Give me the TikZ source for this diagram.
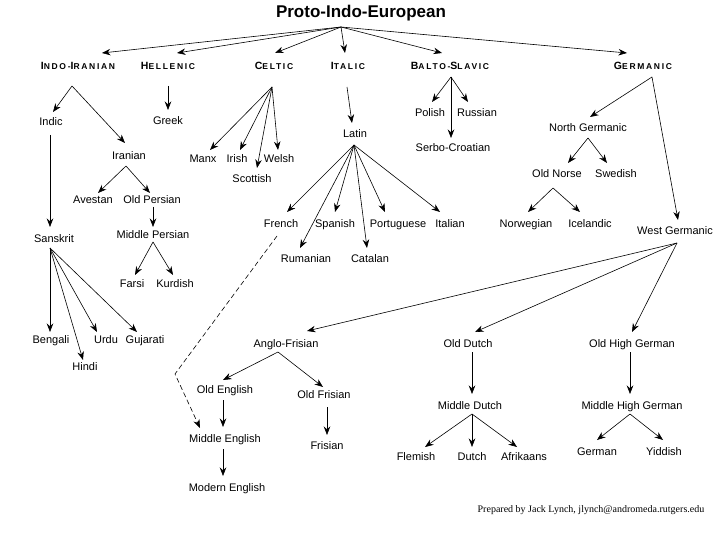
\documentclass[tikz,border=0pt]{standalone}
\usepackage{fontspec}
\setmainfont{Liberation Sans}
\newfontfamily\hdfont[LetterSpace=20]{Liberation Sans}
\newfontfamily\credfont{Liberation Serif}
\usetikzlibrary{arrows.meta}
\newcommand\Bg[1]{{\fontsize{10.5}{12}\selectfont #1}}
\newcommand\ar[4]{\draw[arr] (#1) -- ([xshift=#3pt,yshift=#4pt]#2.base);}
\newcommand\vx[4]{\coordinate (#1) at ([xshift=#3pt,yshift=#4pt]#2.base);}
\begin{document}
\begin{tikzpicture}[x=1pt,y=-1pt,
  lang/.style={anchor=base, inner sep=0pt, font=\fontsize{11}{13}\selectfont},
  hdr/.style={anchor=base, inner sep=0pt, font=\hdfont\bfseries\fontsize{8.5}{10}\selectfont},
  ttl/.style={anchor=base, inner sep=0pt, font=\bfseries\fontsize{17}{20}\selectfont},
  cred/.style={anchor=base, inner sep=0pt, font=\credfont\fontsize{10}{12}\selectfont},
  arr/.style={-{Stealth[length=8.5pt,width=6.5pt]}, line width=0.6pt}]
\useasboundingbox[fill=white] (0,0) rectangle (720,540);
% title and branches
\node[ttl] (pie) at (361,18) {Proto-Indo-European};
\node[hdr] (ii) at (78,70) {\Bg{I}NDO-\Bg{I}RANIAN};
\node[hdr] (hel) at (168,70) {\Bg{H}ELLENIC};
\node[hdr] (cel) at (274,70) {\Bg{C}ELTIC};
\node[hdr] (ita) at (348,70) {\Bg{I}TALIC};
\node[hdr] (bs) at (450,70) {\Bg{B}ALTO-\Bg{S}LAVIC};
\node[hdr] (ger) at (643,70) {\Bg{G}ERMANIC};
% languages
\node[lang] (indic) at (51,126) {Indic};
\node[lang] (iran) at (129,160) {Iranian};
\node[lang] (greek) at (168,125) {Greek};
\node[lang] (manx) at (203,163) {Manx};
\node[lang] (irish) at (237,163) {Irish};
\node[lang] (welsh) at (279,163) {Welsh};
\node[lang] (scot) at (252,183) {Scottish};
\node[lang] (latin) at (355,138) {Latin};
\node[lang] (french) at (281,228) {French};
\node[lang] (spanish) at (335,228) {Spanish};
\node[lang] (port) at (398,228) {Portuguese};
\node[lang] (italian) at (450,228) {Italian};
\node[lang] (rum) at (306,262) {Rumanian};
\node[lang] (cat) at (370,262) {Catalan};
\node[lang] (polish) at (430,117) {Polish};
\node[lang] (russian) at (477,117) {Russian};
\node[lang] (serbo) at (453,152) {Serbo-Croatian};
\node[lang] (ng) at (588,132) {North Germanic};
\node[lang] (wg) at (675,235) {West Germanic};
\node[lang] (on) at (557,178) {Old Norse};
\node[lang] (swe) at (616,178) {Swedish};
\node[lang] (nor) at (526,228) {Norwegian};
\node[lang] (ice) at (590,228) {Icelandic};
\node[lang] (ave) at (93,204) {Avestan};
\node[lang] (op) at (152,204) {Old Persian};
\node[lang] (mp) at (153,239) {Middle Persian};
\node[lang] (farsi) at (132,287) {Farsi};
\node[lang] (kurd) at (175,287) {Kurdish};
\node[lang] (sans) at (54,242) {Sanskrit};
\node[lang] (beng) at (51,343) {Bengali};
\node[lang] (hindi) at (85,370) {Hindi};
\node[lang] (urdu) at (106,343) {Urdu};
\node[lang] (guj) at (145,343) {Gujarati};
\node[lang] (af) at (286,347) {Anglo-Frisian};
\node[lang] (od) at (468,347) {Old Dutch};
\node[lang] (ohg) at (632,347) {Old High German};
\node[lang] (oe) at (225,393) {Old English};
\node[lang] (ofr) at (324,398) {Old Frisian};
\node[lang] (me) at (225,442) {Middle English};
\node[lang] (mod) at (227,491) {Modern English};
\node[lang] (fri) at (327,449) {Frisian};
\node[lang] (md) at (470,409) {Middle Dutch};
\node[lang] (flem) at (416,460) {Flemish};
\node[lang] (dutch) at (472,460) {Dutch};
\node[lang] (afr) at (524,460) {Afrikaans};
\node[lang] (mhg) at (632,409) {Middle High German};
\node[lang] (german) at (597,455) {German};
\node[lang] (yid) at (664,455) {Yiddish};
\node[cred] (credit) at (591,512) {Prepared by Jack Lynch, jlynch@andromeda.rutgers.edu};
% fan vertices
\vx{pie-v}{pie}{-20}{-9}
\vx{ii-v}{ii}{-6}{-16}
\vx{hel-v}{hel}{0}{-16}
\vx{cel-v}{cel}{-2}{-17}
\vx{ita-v}{ita}{-1}{-17}
\vx{latin-v}{latin}{-1}{-7}
\vx{bs-v}{bs}{1}{-7}
\vx{ger-v}{ger}{9}{-7}
\vx{ng-v}{ng}{0}{-6}
\vx{on-v}{on}{-4}{-10}
\vx{iran-v}{iran}{-3}{-6}
\vx{op-v}{op}{1}{-3}
\vx{mp-v}{mp}{0}{-3}
\vx{indic-v}{indic}{-1}{-9}
\vx{sans-v}{sans}{-4}{-6}
\vx{french-v}{french}{-4}{-8}
\vx{wg-v}{wg}{2}{-8}
\vx{af-v}{af}{-8}{-5}
\vx{oe-v}{oe}{-2}{-7}
\vx{me-v}{me}{-2}{-7}
\vx{ofr-v}{ofr}{3}{-9}
\vx{od-v}{od}{4}{-5}
\vx{md-v}{md}{2}{-5}
\vx{ohg-v}{ohg}{-2}{-5}
\vx{mhg-v}{mhg}{-2}{-5}
\coordinate (bend) at (175,374);
% connectors
\ar{pie-v}{ii}{24}{17}
\ar{pie-v}{hel}{9}{17}
\ar{pie-v}{cel}{1}{17}
\ar{pie-v}{ita}{-3}{17}
\ar{pie-v}{bs}{-8}{17}
\ar{pie-v}{ger}{-16}{17}
\ar{ii-v}{indic}{2}{14}
\ar{ii-v}{iran}{-4}{17}
\ar{hel-v}{greek}{0}{15}
\ar{cel-v}{manx}{7}{13}
\ar{cel-v}{irish}{3}{13}
\ar{cel-v}{welsh}{-1}{13}
\ar{cel-v}{scot}{5}{15}
\ar{ita-v}{latin}{-3}{15}
\ar{latin-v}{french}{6}{16}
\ar{latin-v}{spanish}{0}{16}
\ar{latin-v}{port}{-13}{16}
\ar{latin-v}{italian}{-10}{16}
\ar{latin-v}{rum}{-6}{14}
\ar{latin-v}{cat}{-3}{14}
\ar{bs-v}{polish}{2}{15}
\ar{bs-v}{russian}{-9}{15}
\ar{bs-v}{serbo}{-2}{14}
\ar{ger-v}{ng}{2}{15}
\ar{ger-v}{wg}{3}{15}
\ar{ng-v}{on}{11}{15}
\ar{ng-v}{swe}{-9}{15}
\ar{on-v}{nor}{2}{16}
\ar{on-v}{ice}{-10}{16}
\ar{iran-v}{ave}{5}{11}
\ar{iran-v}{op}{-2}{11}
\ar{op-v}{mp}{0}{12}
\ar{mp-v}{farsi}{3}{12}
\ar{mp-v}{kurd}{-2}{12}
\ar{indic-v}{sans}{-4}{15}
\ar{sans-v}{beng}{-1}{11}
\ar{sans-v}{hindi}{-2}{10}
\ar{sans-v}{urdu}{-9}{11}
\ar{sans-v}{guj}{-8}{11}
\draw[arr, dash pattern=on 5pt off 3pt] (french-v) -- (bend) -- ([xshift=-25pt,yshift=14pt]me.base);
\ar{wg-v}{af}{21}{16}
\ar{wg-v}{od}{7}{15}
\ar{wg-v}{ohg}{0}{15}
\ar{af-v}{oe}{-2}{13}
\ar{af-v}{ofr}{-1}{11}
\ar{oe-v}{me}{-2}{15}
\ar{me-v}{mod}{-4}{15}
\ar{ofr-v}{fri}{0}{14}
\ar{od-v}{md}{2}{15}
\ar{md-v}{flem}{9}{13}
\ar{md-v}{dutch}{0}{13}
\ar{md-v}{afr}{-7}{13}
\ar{ohg-v}{mhg}{-2}{15}
\ar{mhg-v}{german}{0}{15}
\ar{mhg-v}{yid}{-1}{15}
\end{tikzpicture}
\end{document}
